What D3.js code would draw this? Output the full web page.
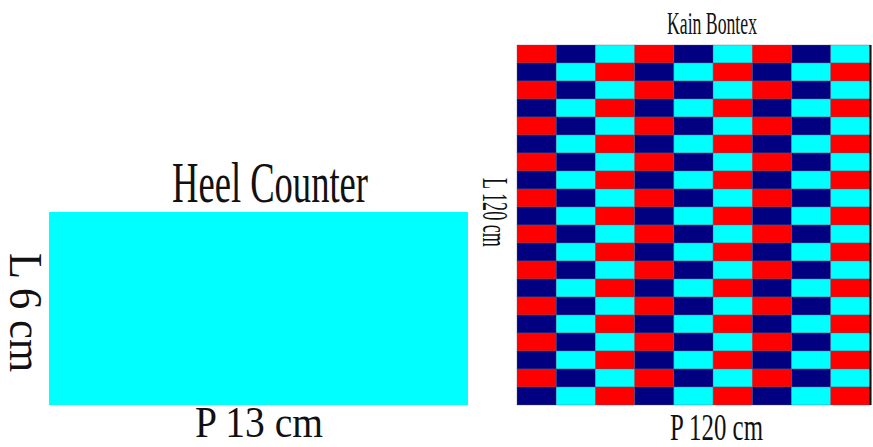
<!DOCTYPE html>
<html><head><meta charset="utf-8">
<script src="https://cdn.jsdelivr.net/npm/d3@7"></script>
<style>body{margin:0;background:#fff}svg{display:block}text{font-family:"Liberation Serif",serif;fill:#111}</style>
</head><body>
<script>
// Heel Counter piece (cm)
const heelWidthCm = 13;
const heelHeightCm = 6;
const heelLabels = {title:"Heel Counter", w:"P 13 cm", h:"L 6 cm"};
// Kain Bontex fabric pattern (cm) and cell colours
const fabricWidthCm = 120;
const fabricHeightCm = 120;
const fabricLabels = {title:"Kain Bontex", w:"P 120 cm", h:"L 120 cm"};
const columns = ["c1","c2","c3","c4","c5","c6","c7","c8","c9"];
const rowA = ["red","navy","cyan","red","navy","cyan","red","navy","cyan"];
const rowB = ["navy","cyan","red","navy","cyan","red","navy","cyan","red"];
const rowPattern = ["A","B","A","B","A","B","A","B","A","B","A","B","A","B","A","B","A","B","A","B"];
const colourMap = {red:"#ff0000", navy:"#000080", cyan:"#00ffff"};

const W=873,H=447;
const svg=d3.select("body").append("svg").attr("width",W).attr("height",H);

// Heel counter
const hx=d3.scaleLinear().domain([0,heelWidthCm]).range([49,468]);
const hy=d3.scaleLinear().domain([0,heelHeightCm]).range([405,212]);
svg.append("rect").attr("x",hx(0)).attr("y",hy(heelHeightCm))
  .attr("width",hx(heelWidthCm)-hx(0)).attr("height",hy(0)-hy(heelHeightCm))
  .attr("fill","#00ffff");
svg.append("text").attr("x",172).attr("y",202).attr("font-size",56)
  .attr("textLength",196).attr("lengthAdjust","spacingAndGlyphs").text(heelLabels.title);
svg.append("text").attr("x",195).attr("y",437).attr("font-size",45)
  .attr("textLength",128).attr("lengthAdjust","spacingAndGlyphs").text(heelLabels.w);
svg.append("text").attr("transform","translate(10,253) rotate(90)").attr("font-size",47)
  .attr("textLength",119).attr("lengthAdjust","spacingAndGlyphs").text(heelLabels.h);

// Fabric grid
const rowIds=rowPattern.map((p,i)=>"r"+i);
const fx=d3.scaleBand().domain(columns).range([517,870]);
const fy=d3.scaleBand().domain(rowIds).range([45,405]);
const cells=[];
rowPattern.forEach((p,i)=>{const row=p==="A"?rowA:rowB;columns.forEach((c,j)=>cells.push({r:rowIds[i],c,col:row[j]}));});
svg.append("g").selectAll("rect").data(cells).join("rect")
  .attr("x",d=>fx(d.c)).attr("y",d=>fy(d.r))
  .attr("width",fx.bandwidth()).attr("height",fy.bandwidth())
  .attr("fill",d=>colourMap[d.col])
  .attr("stroke","#5a5a7a").attr("stroke-width",0.6).attr("stroke-opacity",0.6);
svg.append("line").attr("x1",870.5).attr("x2",870.5).attr("y1",45).attr("y2",405)
  .attr("stroke","#000").attr("stroke-width",2);
svg.append("text").attr("x",667).attr("y",34).attr("font-size",31)
  .attr("textLength",90).attr("lengthAdjust","spacingAndGlyphs").text(fabricLabels.title);
svg.append("text").attr("x",670).attr("y",440).attr("font-size",37)
  .attr("textLength",93).attr("lengthAdjust","spacingAndGlyphs").text(fabricLabels.w);
svg.append("text").attr("transform","translate(483,178) rotate(90)").attr("font-size",35)
  .attr("textLength",69).attr("lengthAdjust","spacingAndGlyphs").text(fabricLabels.h);
</script>
</body></html>
